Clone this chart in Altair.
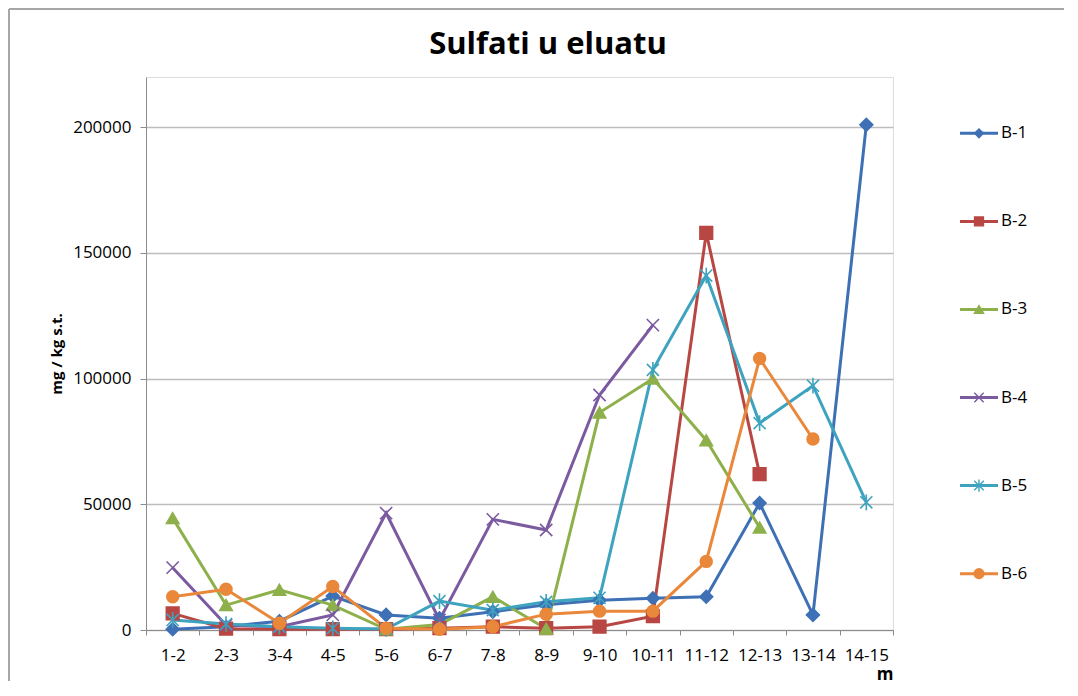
import altair as alt
import pandas as pd

chart_title = "Sulfati u eluatu"
categories = ["1-2", "2-3", "3-4", "4-5", "5-6", "6-7", "7-8", "8-9",
              "9-10", "10-11", "11-12", "12-13", "13-14", "14-15"]
series_names = ["B-1", "B-2", "B-3", "B-4", "B-5", "B-6"]

b1 = [300, 1300, 3500, 13500, 6000, 4700, 7300, 10000, 11800, 12600, 13200, 50500, 6000, 201000]
b2 = [6600, 500, 300, 300, 300, 700, 1300, 700, 1300, 5500, 158000, 62000, None, None]
b3 = [44500, 9900, 16000, 9900, 300, 2200, 13200, 500, 86500, 100000, 75500, 40800, None, None]
b4 = [24800, 2000, 1300, 6000, 46500, 4000, 44000, 39800, 93500, 121300, None, None, None, None]
b5 = [4000, 2400, 1300, 700, 400, 11500, 7900, 11200, 12800, 103500, 141000, 82300, 97200, 50800]
b6 = [13200, 16200, 2700, 17300, 700, 300, 1300, 6300, 7500, 7500, 27300, 108000, 76000, None]

y_ticks = [0, 50000, 100000, 150000, 200000]

colors = ["#3E70B5", "#B84743", "#8DB04B", "#7B5AA0", "#3EA3BF", "#E9873A"]
shapes = ["diamond", "square", "triangle-up",
          "M-1,-1L1,1M-1,1L1,-1",
          "M-1,-1L1,1M-1,1L1,-1M0,-1.3L0,1.3",
          "circle"]
sizes = [165, 140, 170, 180, 200, 230]
legend_sizes = [75, 95, 105, 130, 140, 135]

FONT = "Open Sans"
FRAME = "#A6A6A6"

rows = []
for name, vals in zip(series_names, [b1, b2, b3, b4, b5, b6]):
    for c, v in zip(categories, vals):
        if v is not None:
            rows.append({"series": name, "depth": c, "value": v})
df = pd.DataFrame(rows)

color_scale = alt.Scale(domain=series_names, range=colors)
shape_scale = alt.Scale(domain=series_names, range=shapes)

x_enc = alt.X(
    "depth:N", sort=categories,
    scale=alt.Scale(type="band", paddingInner=0, paddingOuter=0),
    axis=alt.Axis(title="m", titleAnchor="end", labelAngle=0, tickBand="extent",
                  domainColor="#8C8C8C", tickColor="#8C8C8C", tickSize=5,
                  labelFontSize=17, labelColor="#000000", labelFont=FONT,
                  titleFontSize=17, titleFontWeight="bold", titleFont=FONT,
                  titleColor="#000000", labelPadding=12, titlePadding=3, grid=False),
)
y_enc = alt.Y(
    "value:Q",
    scale=alt.Scale(domain=[0, 220000], nice=False),
    axis=alt.Axis(values=y_ticks, format="d", title="mg / kg s.t.",
                  gridColor="#BDBDBD", gridWidth=1.3, domainColor="#8C8C8C",
                  tickColor="#8C8C8C", tickSize=6, labelPadding=9,
                  labelFontSize=17, labelColor="#000000", labelFont=FONT,
                  titleFontSize=15, titleFontWeight="bold", titleFont=FONT,
                  titleColor="#000000", titlePadding=8),
)

base = alt.Chart(df).encode(x=x_enc, y=y_enc)
lines = base.mark_line(strokeWidth=3).encode(
    color=alt.Color("series:N", scale=color_scale, legend=None),
    detail="series:N",
)
points = base.mark_point(filled=True, strokeWidth=1.6, opacity=1).encode(
    fill=alt.Fill("series:N", scale=color_scale, legend=None),
    stroke=alt.Stroke("series:N", scale=color_scale, legend=None),
    shape=alt.Shape("series:N", scale=shape_scale, legend=None),
    size=alt.Size("series:N", scale=alt.Scale(domain=series_names, range=sizes), legend=None),
)
main = alt.layer(lines, points)

# chart title and outer frame (decoration)
title_df = pd.DataFrame({"t": [chart_title]})
tbase = alt.Chart(title_df)
frame_left = tbase.mark_rule(color=FRAME, strokeWidth=2).encode(
    x=alt.value(-137), y=alt.value(-68), y2=alt.value(604))
frame_top = tbase.mark_rule(color=FRAME, strokeWidth=2).encode(
    x=alt.value(-137), x2=alt.value(918), y=alt.value(-68))
title = tbase.mark_text(fontSize=31, fontWeight="bold", font=FONT, color="#000000",
                        align="center", baseline="middle").encode(
    x=alt.value(402), y=alt.value(-32), text="t:N")
deco = alt.layer(frame_left, frame_top, title)

# legend
leg_df = pd.DataFrame({"series": series_names})
lbase = alt.Chart(leg_df).encode(
    y=alt.Y("series:N", sort=series_names, scale=alt.Scale(type="point", padding=0.64), axis=None)
)
lrule = lbase.mark_rule(strokeWidth=3).encode(
    x=alt.value(814), x2=alt.value(852),
    color=alt.Color("series:N", scale=color_scale, legend=None),
)
lpts = lbase.mark_point(filled=True, strokeWidth=1.4, opacity=1).encode(
    x=alt.value(833),
    fill=alt.Fill("series:N", scale=color_scale, legend=None),
    stroke=alt.Stroke("series:N", scale=color_scale, legend=None),
    shape=alt.Shape("series:N", scale=shape_scale, legend=None),
    size=alt.Size("series:N", scale=alt.Scale(domain=series_names, range=legend_sizes), legend=None),
)
ltxt = lbase.mark_text(align="left", baseline="middle", fontSize=17, font=FONT, color="#000000").encode(
    x=alt.value(855), text="series:N"
)
legend = alt.layer(lrule, lpts, ltxt)

chart = alt.layer(deco, main, legend).resolve_scale(
    y="independent", size="independent"
).properties(
    width=747, height=553,
    padding={"left": 0, "top": 0, "right": 2, "bottom": 2},
).configure_view(stroke="transparent", strokeWidth=0).configure(font=FONT)

chart.save("out.html", embed_options={"renderer": "svg", "actions": False})
